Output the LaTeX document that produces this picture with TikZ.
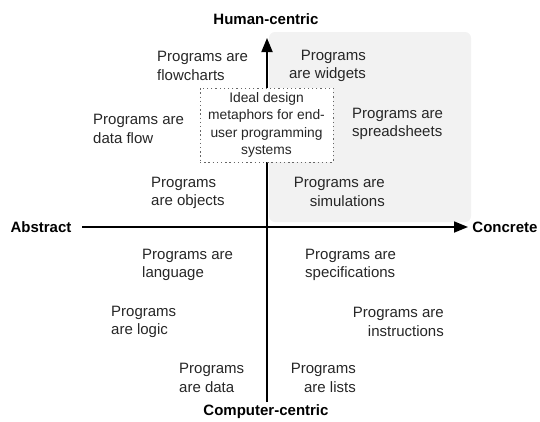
\documentclass[tikz,border=0pt]{standalone}
\usepackage{fontspec}
\setmainfont{Liberation Sans}
\usetikzlibrary{arrows.meta}
\begin{document}
\begin{tikzpicture}[x=1pt,y=-1pt,
  lbl/.style={inner sep=0pt,font=\fontsize{15}{18.5}\selectfont,text=black!85},
  lleft/.style={lbl,align=left,anchor=west},
  lright/.style={lbl,align=right,anchor=east},
  axlbl/.style={inner sep=0pt,font=\fontsize{15}{18}\selectfont\bfseries},
  axis/.style={line width=1.8pt,-{Triangle[length=14pt,width=11pt]}},
  ideal/.style={draw=black!60,dash pattern=on 1.3pt off 2.9pt,line width=1pt,fill=white,minimum width=133pt,minimum height=74pt,inner sep=0pt,align=center,font=\fontsize{13.8}{17.6}\selectfont,text=black!85}
]
\useasboundingbox (0,0) rectangle (540,421);
\fill[black!5,rounded corners=6pt] (269,32) rectangle (471,222);
% axes
\coordinate (L) at (82,227);
\coordinate (R) at (468,227);
\coordinate (B) at (267,402);
\coordinate (T) at (267,38);
\draw[axis] (L) -- (R);
\draw[axis] (B) -- (T);
\node[ideal] (box) at (266.5,125) {Ideal design\\metaphors for end-\\user programming\\systems};
% axis labels
\node[axlbl] (hc) at (266,19) {Human-centric};
\node[axlbl] (ab) at (41,227) {Abstract};
\node[axlbl] (co) at (505,227) {Concrete};
\node[axlbl] (cc) at (266,412) {Computer-centric};
% quadrant labels
\node[lleft] (flow) at (157,66) {Programs are\\flowcharts};
\node[lright] (widg) at (366,66) {Programs\\are widgets};
\node[lleft] (dflow) at (93,129) {Programs are\\data flow};
\node[lleft] (sprd) at (352,124) {Programs are\\spreadsheets};
\node[lleft] (obj) at (151,193) {Programs\\are objects};
\node[lright] (sim) at (385,192) {Programs are\\simulations};
\node[lleft] (lang) at (142,265) {Programs are\\language};
\node[lleft] (spec) at (305,265) {Programs are\\specifications};
\node[lleft] (logic) at (111,322) {Programs\\are logic};
\node[lright] (instr) at (444,322) {Programs are\\instructions};
\node[lleft] (data) at (179,378) {Programs\\are data};
\node[lright] (lists) at (356,378) {Programs\\are lists};
\end{tikzpicture}
\end{document}
